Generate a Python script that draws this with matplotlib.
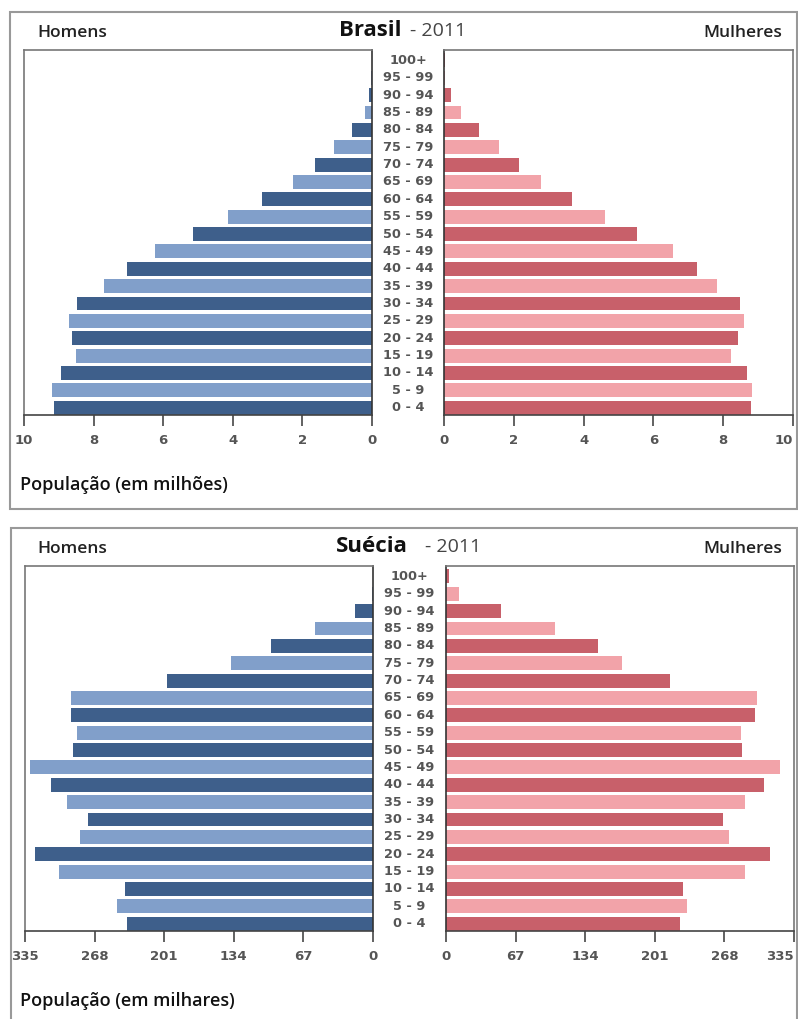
import matplotlib.pyplot as plt
from matplotlib.patches import Rectangle
from matplotlib import transforms

ages = ['0 - 4', '5 - 9', '10 - 14', '15 - 19', '20 - 24', '25 - 29', '30 - 34',
        '35 - 39', '40 - 44', '45 - 49', '50 - 54', '55 - 59', '60 - 64', '65 - 69',
        '70 - 74', '75 - 79', '80 - 84', '85 - 89', '90 - 94', '95 - 99', '100+']

# Brasil 2011, milhoes
br_homens = [9.14, 9.19, 8.95, 8.51, 8.63, 8.71, 8.47, 7.69, 7.05, 6.24, 5.15,
             4.13, 3.15, 2.26, 1.64, 1.08, 0.58, 0.20, 0.08, 0.02, 0.01]
br_mulheres = [8.80, 8.82, 8.67, 8.22, 8.41, 8.60, 8.48, 7.83, 7.26, 6.55, 5.53,
               4.61, 3.68, 2.78, 2.15, 1.58, 1.00, 0.48, 0.19, 0.03, 0.02]
br_ticks = [0, 2, 4, 6, 8, 10]

# Suecia 2011, milhares
se_homens = [237, 246, 239, 302, 325, 282, 274, 295, 310, 330, 289,
             285, 291, 291, 198, 137, 98, 56, 17, 1.3, 0.4]
se_mulheres = [225, 232, 228, 288, 312, 272, 267, 288, 306, 322, 285,
               284, 297, 299, 216, 169, 146, 105, 53, 12.8, 2.5]
se_ticks = [0, 67, 134, 201, 268, 335]

W, H = 798, 1019
fig = plt.figure(figsize=(W / 100, H / 100), dpi=100)

blue = ['#3e5f8b', '#819fca']
red = ['#c8606a', '#f2a3a9']
lab_font = ['Open Sans', 'DejaVu Sans']


def rect(x0, y0, x1, y1):
    return [x0 / W, 1 - y1 / H, (x1 - x0) / W, (y1 - y0) / H]


def style(ax, ticks, xmax, side):
    ax.set_xlim(0, xmax)
    ax.set_ylim(-0.42, 20.6)
    ax.set_xticks(ticks)
    ax.set_xticklabels([str(t) for t in ticks])
    ax.set_yticks([])
    ax.tick_params(axis='x', direction='out', length=8, width=1.3, color='#555555',
                   labelsize=9.5, labelcolor='#555555', pad=6)
    for lab in ax.get_xticklabels():
        lab.set_fontweight('bold')
    for name, sp in ax.spines.items():
        sp.set_color('#777777')
        sp.set_linewidth(1.2)
    ax.spines['bottom'].set_color('#444444')
    if side == 'left':
        ax.invert_xaxis()
        ax.spines['right'].set_color('#333333')
    else:
        ax.spines['left'].set_color('#333333')
        # the last label sits at the picture's right edge
        ax.get_xticklabels()[-1].set_horizontalalignment('right')


def panel(top, homens, mulheres, ticks, xmax, pais, xlabel, pais_right, ano_left,
          axl, axr):
    ax1 = fig.add_axes(rect(axl[0], top + 38, axl[1], top + 403))
    ax2 = fig.add_axes(rect(axr[0], top + 38, axr[1], top + 403))
    y = list(range(len(ages)))
    ax1.barh(y, homens, height=0.8, color=[blue[i % 2] for i in y])
    ax2.barh(y, mulheres, height=0.8, color=[red[i % 2] for i in y])
    style(ax1, ticks, xmax, 'left')
    style(ax2, ticks, xmax, 'right')

    tr = transforms.blended_transform_factory(fig.transFigure, ax2.transData)
    xc = (axl[1] + axr[0]) / 2 / W
    for i, a in enumerate(ages):
        fig.text(xc, i, a, transform=tr, ha='center', va='center', fontsize=9.3,
                 color='#555555', fontweight='bold')

    yt = 1 - (top + 21) / H
    fig.text(37 / W, yt, 'Homens', fontsize=12.5, fontweight='semibold',
             color='#222222', family=lab_font, va='center')
    fig.text(782 / W, yt, 'Mulheres', fontsize=12.5, fontweight='semibold',
             color='#222222', family=lab_font, va='center', ha='right')
    fig.text(pais_right / W, 1 - (top + 18) / H, pais, fontsize=16,
             fontweight='bold', color='#111111', family=lab_font, va='center',
             ha='right')
    fig.text(ano_left / W, 1 - (top + 19) / H, '- 2011', fontsize=14,
             color='#444444', family=lab_font, va='center', ha='left')
    fig.text(20 / W, 1 - (top + 473) / H, xlabel, fontsize=13, fontweight='semibold',
             color='#111111', family=lab_font, va='center')


panel(12, br_homens, br_mulheres, br_ticks, 10, 'Brasil', 'População (em milhões)',
      401, 410, (24, 372), (444, 793))
panel(528, se_homens, se_mulheres, se_ticks, 335, 'Suécia', 'População (em milhares)',
      408, 425, (25, 373), (446, 794))

fig.patches.append(Rectangle((10 / W, 1 - 509 / H), 787 / W, 497 / H,
                             transform=fig.transFigure, fill=False,
                             ec='#999999', lw=1.5))
fig.patches.append(Rectangle((11 / W, 1 - 1030 / H), 786 / W, 502 / H,
                             transform=fig.transFigure, fill=False,
                             ec='#999999', lw=1.5))

fig.savefig('out.png', dpi=100)
